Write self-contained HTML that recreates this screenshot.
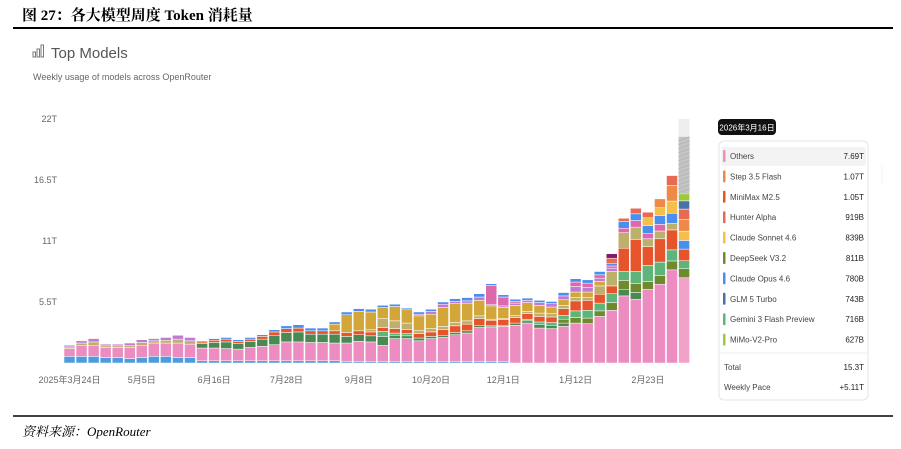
<!DOCTYPE html>
<html><head><meta charset="utf-8">
<style>
html,body{margin:0;padding:0;background:#fff;width:901px;height:449px;overflow:hidden}
svg{display:block}
.t{font-family:"Liberation Sans","Noto Sans CJK SC",sans-serif}
</style></head>
<body>
<svg id="chart" width="901" height="449" viewBox="0 0 901 449" xmlns="http://www.w3.org/2000/svg">
  <text x="22" y="20" font-family="'Liberation Serif','Noto Serif CJK SC',serif" font-weight="bold" font-size="15" fill="#000">图 27：各大模型周度 Token 消耗量</text>
  <line x1="13" y1="28" x2="893" y2="28" stroke="#000" stroke-width="2"/>
  <g fill="none" stroke="#777" stroke-width="1">
    <rect x="33" y="52" width="2.5" height="5"/><rect x="37" y="49" width="2.5" height="8"/><rect x="41" y="45" width="2.5" height="12"/>
  </g>
  <text class="t" x="51" y="58" font-size="15" fill="#555">Top Models</text>
  <text class="t" x="33" y="80" font-size="9" fill="#666">Weekly usage of models across OpenRouter</text>
  <g id="yaxis"></g>
  <g id="bars"></g>
  <g id="xaxis"></g>

  <g>
    <rect x="718" y="119" width="58" height="16" rx="4" fill="#111"/>
    <text class="t" x="747" y="130.5" font-size="8" fill="#fff" text-anchor="middle">2026年3月16日</text>
  </g>
  <rect x="719" y="141" width="149" height="259" rx="5" fill="#fff" stroke="#e4e4e4"/>
  <rect x="721" y="147" width="145" height="19" rx="3" fill="#f3f3f3"/>
  <g id="legend"></g>
  <line x1="720" y1="353" x2="867" y2="353" stroke="#eee"/>
  <text class="t" x="724" y="370" font-size="8" fill="#444">Total</text>
  <text class="t" x="864" y="370" font-size="8" fill="#222" text-anchor="end">15.3T</text>
  <text class="t" x="724" y="390" font-size="8" fill="#444">Weekly Pace</text>
  <text class="t" x="864" y="390" font-size="8" fill="#222" text-anchor="end">+5.11T</text>
  <line x1="882" y1="165" x2="882" y2="185" stroke="#f0f0f0"/>

  <line x1="13" y1="416" x2="893" y2="416" stroke="#000" stroke-width="1.5"/>
  <text x="22" y="436" font-family="'Liberation Serif','Noto Serif CJK SC',serif" font-style="italic" font-size="13" fill="#000">资料来源：OpenRouter</text>
</svg>
<script>
const yTicks = [5.5, 11, 16.5, 22];
const yTickLabels = ["5.5T", "11T", "16.5T", "22T"];
const xLabelIndex = [0, 6, 12, 18, 24, 30, 36, 42, 48];
const xLabels = ["2025年3月24日", "5月5日", "6月16日", "7月28日", "9月8日", "10月20日", "12月1日", "1月12日", "2月23日"];
const base = [.6,.6,.6,.5,.5,.4,.5,.6,.6,.5,.5,.2,.2,.2,.2,.2,.2,.2,.2,.2,.2,.2,.2,.15,.15,.15,.15,.15,.15,.15,.15,.15,.15,.15,.15,.15,.15,0,0,0,0,0,0,0,0,0,0,0,0,0,0,0];
const others = [.7,1.0,1.0,.9,.9,1.0,1.1,1.2,1.2,1.3,1.2,1.15,1.15,1.1,1.05,1.2,1.3,1.45,1.7,1.7,1.65,1.65,1.6,1.65,1.8,1.75,1.45,2.05,2.05,1.85,2.05,2.15,2.4,2.55,3.05,3.1,3.15,3.4,3.6,3.15,3.1,3.3,3.6,3.55,4.2,4.75,6.05,5.75,6.65,7.1,8.4,7.69];
const darkGreen = [0,0,0,0,0,0,0,0,0,0,0,.4,.5,.6,.5,.55,.65,.85,.85,.9,.75,.75,.8,.6,.6,.55,.8,.3,.25,.25,.2,.2,.2,.2,.2,.1,.1,.2,.2,.3,.3,.3,0,0,0,0,.6,.6,0,0,0,0];
const deepseek = [0,0,0,0,0,0,0,0,0,0,0,0,0,0,0,0,0,0,0,0,0,0,0,0,0,0,0,0,0,0,0,0,0,0,0,0,0,0,0,0,0,.35,.5,.5,.5,.7,.8,.8,.7,.8,.8,.81];
const gemini = [0,0,0,0,0,0,0,0,0,0,0,0,0,0,0,0,0,0,0,0,0,0,0,0,0,0,.45,.2,.2,0,0,0,0,0,0,0,0,0,.15,.25,.25,.35,.6,.7,.7,.8,.8,1.1,1.45,1.2,1.0,.72];
const minimax = [0,0,0,0,0,0,0,0,0,0,0,.15,.2,.25,.2,.2,.25,.3,.35,.35,.3,.3,.3,.35,.35,.35,.35,.4,.35,.4,.4,.5,.6,.6,.6,.5,.5,.5,.5,.5,.5,.6,.9,.9,.8,.7,2.1,2.9,1.7,2.1,1.8,1.05];
const khaki = [.15,.2,.3,.15,.15,.2,.25,.2,.25,.35,.3,0,0,0,0,0,0,0,0,0,0,0,0,0,0,.2,.8,.7,.6,.3,.3,.3,.3,.3,.25,.1,.1,.2,.2,.3,.3,.3,.3,.25,.75,1.3,1.4,1.1,.7,.7,.6,0];
const gold = [0,0,0,0,0,0,0,0,0,0,0,0,0,0,0,0,0,0,0,0,0,0,.6,1.6,1.75,1.6,1.0,1.3,1.2,1.3,1.3,1.7,1.7,1.6,1.4,1.2,1.0,.9,.8,.7,.6,.5,.5,.5,.4,0,0,0,0,0,0,0];
const violet = [.15,.2,.3,.15,.15,.2,.25,.2,.25,.35,.3,0,0,0,0,0,0,0,0,0,0,0,0,0,0,0,0,0,0,.15,.25,.3,.2,.2,.3,.15,.15,.2,.2,.25,.3,.35,.5,.4,.3,.3,0,0,0,0,0,0];
const magenta = [0,0,0,0,0,0,0,0,0,0,0,0,0,0,0,0,0,0,0,0,0,0,0,0,0,0,0,0,0,0,0,0,0,0,0,1.7,.8,.15,0,0,0,0,.4,.4,.3,.2,.4,.6,.5,.6,0,0];
const opus = [0,0,0,0,0,0,0,0,0,0,0,.1,.15,.15,.15,.15,.15,.2,.25,.3,.25,.25,.2,.25,.25,.25,.2,.2,.15,.2,.2,.2,.25,.3,.3,.15,.2,.2,.2,.2,.2,.3,.3,.3,.3,.2,.6,.6,.7,.8,.9,.78];
const sonnet = [0,0,0,0,0,0,0,0,0,0,0,0,0,0,0,0,0,0,0,0,0,0,0,0,0,0,0,0,0,0,0,0,0,0,0,0,0,0,0,0,0,0,0,0,0,0,0,0,.7,.7,1.1,.84];
const step = [0,0,0,0,0,0,0,0,0,0,0,0,0,0,0,0,0,0,0,0,0,0,0,0,0,0,0,0,0,0,0,0,0,0,0,0,0,0,0,0,0,0,0,0,0,0,0,0,0,.8,1.4,1.07];
const hunter = [0,0,0,0,0,0,0,0,0,0,0,0,0,0,0,0,0,0,0,0,0,0,0,0,0,0,0,0,0,0,0,0,0,0,0,0,0,0,0,0,0,0,0,0,0,.5,.3,.5,.5,0,.9,.92];
const glm = [0,0,0,0,0,0,0,0,0,0,0,0,0,0,0,0,0,0,0,0,0,0,0,0,0,0,0,0,0,0,0,0,0,0,0,0,0,0,0,0,0,0,0,0,0,0,0,0,0,0,0,.74];
const mimo = [0,0,0,0,0,0,0,0,0,0,0,0,0,0,0,0,0,0,0,0,0,0,0,0,0,0,0,0,0,0,0,0,0,0,0,0,0,0,0,0,0,0,0,0,0,0,0,0,0,0,0,.63];
const maroon = [0,0,0,0,0,0,0,0,0,0,0,0,0,0,0,0,0,0,0,0,0,0,0,0,0,0,0,0,0,0,0,0,0,0,0,0,0,0,0,0,0,0,0,0,0,.4,0,0,0,0,0,0];
const projectedTotal = 20.4;
const projectedCap = 22;
const legendNames = ["Others","Step 3.5 Flash","MiniMax M2.5","Hunter Alpha","Claude Sonnet 4.6","DeepSeek V3.2","Claude Opus 4.6","GLM 5 Turbo","Gemini 3 Flash Preview","MiMo-V2-Pro"];
const legendValues = ["7.69T","1.07T","1.05T","919B","839B","811B","780B","743B","716B","627B"];

const series = [
  {name:'base', v:base, c:'#4f9bdc'},
  {name:'others', v:others, c:'#ec8cc0'},
  {name:'dark-green', v:darkGreen, c:'#4a8a52'},
  {name:'deepseek', v:deepseek, c:'#6d8a2c'},
  {name:'gemini', v:gemini, c:'#5fb47a'},
  {name:'minimax', v:minimax, c:'#e5542a'},
  {name:'khaki', v:khaki, c:'#bdb06c'},
  {name:'gold', v:gold, c:'#d3a63a'},
  {name:'violet', v:violet, c:'#c07ad6'},
  {name:'magenta', v:magenta, c:'#de68ac'},
  {name:'opus', v:opus, c:'#4a8ef0'},
  {name:'sonnet', v:sonnet, c:'#f4c04a'},
  {name:'step', v:step, c:'#ee8a48'},
  {name:'hunter', v:hunter, c:'#e86a50'},
  {name:'glm', v:glm, c:'#4a72a8'},
  {name:'mimo', v:mimo, c:'#9cc840'},
  {name:'maroon', v:maroon, c:'#7a1a70'}
];
const legendColors = ['#ec8cc0','#ee8a48','#e5542a','#e86a50','#f4c04a','#6d8a2c','#4a8ef0','#4a72a8','#5fb47a','#9cc840'];

const NS = 'http://www.w3.org/2000/svg';
const plotBottom = 363, pxPerT = 11.09, x0 = 64, pitch = 12.05, bw = 11;
function yScale(v){ return plotBottom - v * pxPerT; }
function xScale(i){ return x0 + i * pitch; }
function mk(tag, attrs){ const e = document.createElementNS(NS, tag); for (const k in attrs) e.setAttribute(k, attrs[k]); return e; }

const ya = document.getElementById('yaxis');
yTicks.forEach((t, i) => {
  const tx = mk('text', {x: 57, y: yScale(t) + 3, 'font-size': 9, fill: '#666', 'text-anchor': 'end', class: 't'});
  tx.textContent = yTickLabels[i];
  
  
  ya.appendChild(tx);
});

const xa = document.getElementById('xaxis');
xLabelIndex.forEach((bi, i) => {
  const tx = mk('text', {x: xScale(bi) + bw / 2, y: 383, 'font-size': 9, fill: '#666', 'text-anchor': 'middle', class: 't'});
  tx.textContent = xLabels[i];
  
  
  xa.appendChild(tx);
});

const bg = document.getElementById('bars');
const n = others.length;
for (let i = 0; i < n; i++) {
  let acc = 0;
  const last = i === n - 1;
  series.forEach(s => {
    const v = s.v[i];
    if (!v) return;
    const y1 = yScale(acc + v), y0 = yScale(acc);
    let col = s.c;
    if (last && s.name === 'others') col = '#f0a2c9';
    const r = mk('rect', {x: xScale(i), y: y1, width: bw, height: Math.max(0, y0 - y1), fill: col, stroke: '#fff', 'stroke-width': 0.5});
    
    
    bg.appendChild(r);
    acc += v;
  });
  if (last) {
    const cap = mk('rect', {x: xScale(i), y: yScale(projectedCap), width: bw, height: yScale(projectedTotal) - yScale(projectedCap), fill: '#eeeeee'});
    
    
    bg.appendChild(cap);
    const pr = mk('rect', {x: xScale(i), y: yScale(projectedTotal), width: bw, height: yScale(acc) - yScale(projectedTotal), fill: '#c4c4c4'});
    
    
    bg.appendChild(pr);
    for (let k = 0; k < 14; k++) {
      const yy = yScale(projectedTotal) + k * 4;
      const ln = mk('line', {x1: xScale(i), y1: yy + 4, x2: xScale(i) + bw, y2: yy, stroke: '#b0b0b0', 'stroke-width': 0.8});
      
      
      bg.appendChild(ln);
    }
  }
}

const lg = document.getElementById('legend');
legendNames.forEach((nm, i) => {
  const y = 156 + i * 20.4;
  const g = mk('g', {});
  
  
  g.appendChild(mk('rect', {x: 723, y: y - 6, width: 2.5, height: 12, rx: 1, fill: legendColors[i]}));
  const t1 = mk('text', {x: 730, y: y + 3, 'font-size': 8, fill: '#444', class: 't'});
  t1.textContent = nm;
  g.appendChild(t1);
  const t2 = mk('text', {x: 864, y: y + 3, 'font-size': 8, fill: '#222', 'text-anchor': 'end', class: 't'});
  t2.textContent = legendValues[i];
  g.appendChild(t2);
  lg.appendChild(g);
});
</script>
</body></html>
